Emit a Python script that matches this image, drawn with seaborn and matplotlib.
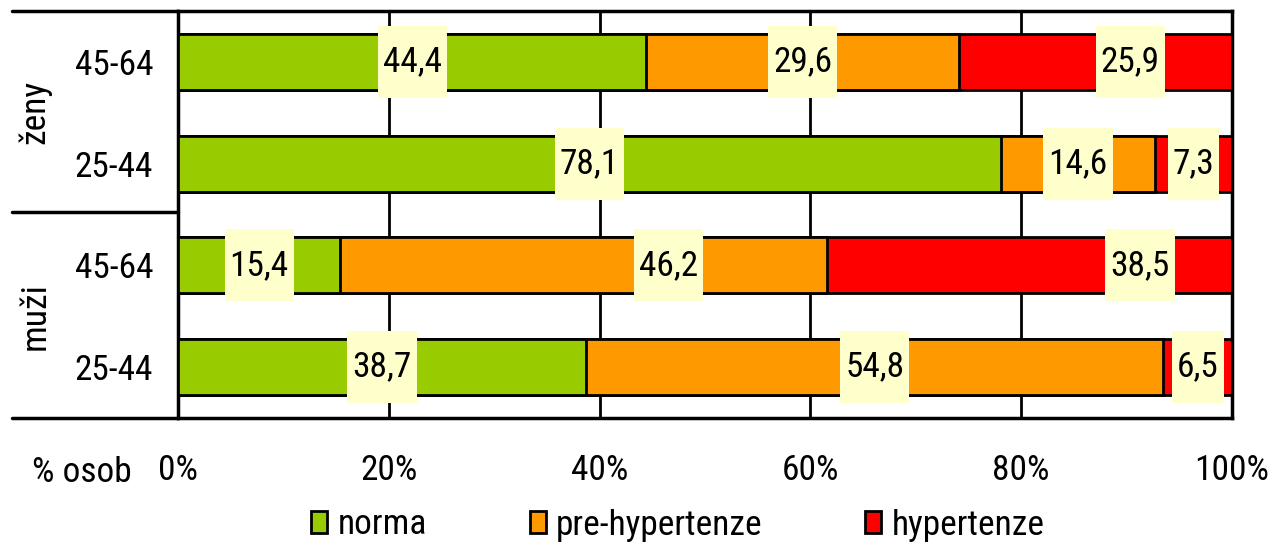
import numpy as np
import pandas as pd
import matplotlib
matplotlib.use("Agg")
import matplotlib.pyplot as plt
from matplotlib import font_manager
from matplotlib.lines import Line2D
from matplotlib.patches import Patch, Rectangle
import seaborn as sns

# Blood-pressure categories by sex and age group (% of persons)
sexes = ["ženy", "ženy", "muži", "muži"]
ages = ["45-64", "25-44", "45-64", "25-44"]
norma = [44.4, 78.1, 15.4, 38.7]
pre_hypertenze = [29.6, 14.6, 46.2, 54.8]
hypertenze = [25.9, 7.3, 38.5, 6.5]
series_names = ["norma", "pre-hypertenze", "hypertenze"]
x_ticks = [0, 20, 40, 60, 80, 100]
x_ticklabels = ["0%", "20%", "40%", "60%", "80%", "100%"]

# sideways nudges of the value boxes, in percentage points
label_shift = [[0, 0, 3.3], [0, 0, 0], [0, 8.1, 10.5], [0, 0, 0]]

colors = ["#99CC00", "#FF9900", "#FF0000"]
box_color = "#FFFFCC"

# prefer a narrow sans face when one is installed
installed = {f.name for f in font_manager.fontManager.ttflist}
narrow_candidates = ["Liberation Sans Narrow", "Arial Narrow", "Noto Sans Condensed",
                     "DejaVu Sans Condensed", "Roboto Condensed", "Open Sans Condensed"]
narrow = [n for n in narrow_candidates if n in installed]
family = narrow[:1] + ["Liberation Sans", "DejaVu Sans"]
FS = 25.5 if narrow else 22

sns.set_theme(style="white")
plt.rcParams["font.family"] = family
plt.rcParams["text.color"] = "black"
plt.rcParams["xtick.color"] = "black"
plt.rcParams["ytick.color"] = "black"

W, H = 1270, 544
fig = plt.figure(figsize=(W / 100, H / 100), dpi=100)
left, right, top, bottom = 178, 1232, 11, 418
ax = fig.add_axes([left / W, 1 - bottom / H, (right - left) / W, (bottom - top) / H])

rows = [f"{s} {a}" for s, a in zip(sexes, ages)]
vals = np.array([norma, pre_hypertenze, hypertenze]).T
share = vals / vals.sum(axis=1, keepdims=True) * 100
cum = share.cumsum(axis=1)
starts = cum - share

df = pd.DataFrame({"row": rows})
for k, name in enumerate(series_names):
    df[name] = cum[:, k]

# stacked bars: widest cumulative first, narrower ones on top
for k in [2, 1, 0]:
    sns.barplot(data=df, x=series_names[k], y="row", order=rows, orient="h",
                color=colors[k], saturation=1, width=0.55,
                edgecolor="black", linewidth=2, ax=ax, zorder=3)

ax.set_xlim(0, 100)
ax.set_ylim(3.5, -0.5)
ax.set_xlabel("")
ax.set_ylabel("")
ax.set_axisbelow(True)
ax.grid(axis="x", color="black", linewidth=2)
ax.grid(axis="y", visible=False)
ax.set_xticks(x_ticks)
ax.set_xticklabels(x_ticklabels, fontsize=FS)
ax.set_yticks(range(len(rows)))
ax.set_yticklabels(ages, fontsize=FS)
ax.tick_params(axis="x", length=0, pad=26)
ax.tick_params(axis="y", length=0, pad=18)
for sp in ax.spines.values():
    sp.set_visible(True)
    sp.set_color("black")
    sp.set_linewidth(2.5)

# value labels
texts = []
for i in range(len(rows)):
    for k in range(3):
        xc = starts[i, k] + share[i, k] / 2 + label_shift[i][k]
        t = ax.text(xc, i, f"{vals[i, k]:.1f}".replace(".", ","), ha="center",
                    va="center", fontsize=FS, color="black", zorder=5)
        texts.append((t, xc, i))

# pale boxes behind the labels: tight sideways, taller than the bars
fig.canvas.draw()
renderer = fig.canvas.get_renderer()
px_per_unit = (right - left) / 100
box_h = 0.71
for t, xc, i in texts:
    w = (t.get_window_extent(renderer).width + 10) / px_per_unit
    ax.add_patch(Rectangle((xc - w / 2, i - box_h / 2), w, box_h,
                           facecolor=box_color, edgecolor="none", zorder=4))

# group separators to the left of the plot
for yy in (top, 212, bottom):
    fig.add_artist(Line2D([12 / W, left / W], [1 - yy / H, 1 - yy / H],
                          color="black", linewidth=2.5, transform=fig.transFigure))

fig.text(35 / W, 1 - 112 / H, "ženy", rotation=90, ha="center", va="center", fontsize=FS)
fig.text(35 / W, 1 - 316 / H, "muži", rotation=90, ha="center", va="center", fontsize=FS)
fig.text(82 / W, 1 - 473 / H, "% osob", ha="center", va="center", fontsize=FS)

handles = [Patch(facecolor=c, edgecolor="black", linewidth=2) for c in colors]
fig.legend(handles, series_names, loc="center", bbox_to_anchor=(678 / W, 1 - 525 / H),
           ncol=3, frameon=False, fontsize=FS, handlelength=0.45, handleheight=0.6,
           handletextpad=0.3, columnspacing=2.9, borderaxespad=0, borderpad=0)

fig.savefig("out.png", dpi=100, facecolor="white")
